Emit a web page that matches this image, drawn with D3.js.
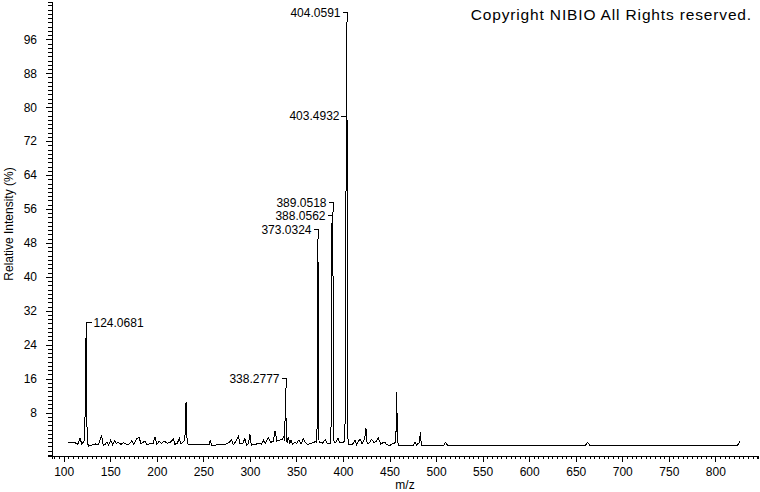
<!doctype html>
<html>
<head>
<meta charset="utf-8">
<title>Mass spectrum</title>
<style type="text/css">
  body { margin: 0; background: #fff; }
  svg {
    font-family: "Liberation Sans", Arial, sans-serif;
    font-size: 12px;
    display: block;
  }
  .axis path, .axis line {
    fill: none;
    stroke: #000;
    shape-rendering: crispEdges;
  }
  .axis text { fill: #000; font-size: 12px; }
  .spec { fill: none; stroke: #000; stroke-width: 1; shape-rendering: crispEdges; }
  .lead { fill: none; stroke: #000; shape-rendering: crispEdges; }
</style>
</head>
<body>
<div id="chart"></div>
<script src="https://d3js.org/d3.v7.min.js"></script>
<script>
// profile (m/z, relative intensity %)
const mz = [105.0, 112.0, 115.0, 117.5, 119.5, 121.8, 122.6, 123.3, 123.7, 124.07, 124.5, 124.9, 125.4, 127.0, 130.0, 134.0, 137.0,
  140.8, 142.5, 144.5, 146.5, 148.0, 150.5, 152.5, 154.5, 156.5, 159.0, 161.5, 164.0, 167.0, 170.0, 173.0, 175.5, 178.4, 181.0, 183.0,
  187.3, 189.5, 191.5, 194.0, 196.0, 198.0, 200.0, 202.5, 205.0, 208.0, 211.0, 214.2, 217.7, 219.5, 222.0, 224.2, 226.0, 229.2,
  230.6, 231.4, 231.9, 232.6, 234.0, 256.0, 257.3, 259.0, 268.0, 275.0, 278.0, 280.4, 282.0, 285.0, 287.6, 289.5, 292.5, 294.7,
  296.5, 298.3, 300.0, 301.5, 306.0, 310.0, 312.5, 314.4, 316.5, 319.8, 322.5, 325.0, 327.0, 329.0, 332.0, 334.5, 336.5, 337.4,
  337.9, 338.28, 338.7, 339.3, 340.2, 341.3, 342.8, 344.2, 345.8, 348.0, 350.5, 352.5, 355.0, 357.4, 359.5, 362.0, 365.0, 368.0,
  370.5, 371.8, 372.5, 372.8, 373.03, 373.4, 373.8, 374.3, 378.0, 381.0, 383.0, 386.5, 387.4, 387.8, 388.06, 388.6, 389.05, 389.4,
  389.8, 390.4, 392.0, 394.5, 396.5, 400.0, 402.0, 402.8, 403.2, 403.49, 403.8, 404.06, 404.4, 404.8, 405.3, 406.0, 410.0, 412.9,
  414.5, 418.3, 420.5, 423.4, 424.7, 426.0, 428.5, 430.8, 433.5, 435.5, 437.9, 440.5, 443.0, 445.0, 447.0, 450.5, 453.0, 455.5,
  456.8, 457.3, 457.7, 458.1, 458.6, 459.4, 475.5, 477.3, 479.0, 482.3, 483.0, 483.6, 484.6, 508.5, 510.3, 512.0, 660.5, 662.8,
  665.0, 824.0, 826.4];
const intensity = [0.9, 0.9, 0.5, 1.9, 0.6, 1.2, 2.0, 14, 22, 27, 18, 6, 0.8, 0.1, 0.3, 0.6, 0.4,
  2.5, 0.3, 0.5, 1.1, 0.3, 1.5, 0.4, 1.3, 0.8, 0.9, 0.5, 0.9, 0.6, 0.5, 1.3, 0.5, 1.9, 2.1, 0.7,
  1.3, 0.3, 0.6, 0.8, 0.6, 2.3, 0.5, 1.2, 0.7, 1.3, 0.8, 0.9, 1.8, 0.5, 0.8, 1.9, 0.6, 1.3,
  3.0, 10.4, 6.0, 1.0, 0.4, 0.4, 1.4, 0.3, 0.4, 0.6, 1.0, 1.6, 0.4, 1.2, 2.4, 0.6, 0.8, 1.9,
  0.3, 0.6, 2.9, 0.3, 0.5, 0.8, 0.5, 1.5, 0.7, 2.0, 1.0, 1.2, 3.7, 1.3, 1.5, 1.6, 2.4, 1.3,
  8.6, 13.8, 8.0, 1.2, 1.0, 2.3, 0.6, 1.6, 0.5, 0.9, 0.8, 1.5, 0.6, 1.9, 1.0, 0.4, 0.7, 0.9,
  1.2, 1.0, 8, 30, 48.9, 35, 8, 0.9, 0.8, 1.6, 0.7, 0.8, 6, 28, 52.2, 54, 55.3, 33,
  8, 0.8, 0.9, 2.0, 1.0, 0.8, 1.5, 18, 55, 78, 92, 100, 70, 20, 2, 0.4, 0.4, 1.5,
  0.4, 1.8, 0.6, 2.0, 4.3, 0.6, 0.9, 1.7, 0.9, 1.2, 2.0, 0.6, 0.9, 1.0, 0.4, 0.3, 0.6, 0.7,
  1.5, 8, 12.9, 7, 1.5, 0.3, 0.35, 1.0, 0.35, 1.0, 3.5, 1.5, 0.35, 0.35, 1.0, 0.35, 0.35, 1.0,
  0.35, 0.35, 1.2];

// labelled peaks
const annMz = [404.0591, 403.4932, 389.0518, 388.0562, 373.0324, 338.2777, 124.0681];
const annInt = [100, 78, 55.3, 52.2, 48.9, 13.8, 27];
const annKind = ["top", "side", "top", "top", "top", "top", "topRight"];

const xMajor = d3.range(100, 801, 50);
const yMajor = d3.range(8, 97, 8);

var margin = {top: 2, right: 2, bottom: 36, left: 52};
var width = 760 - margin.left - margin.right,
    height = 492 - margin.top - margin.bottom;

var svg = d3.select("#chart").append("svg")
  .attr("width", 760)
  .attr("height", 492);

svg.append("rect").attr("width", 760).attr("height", 492).attr("fill", "#fff");

var g = svg.append("g")
  .attr("transform", "translate(" + margin.left + "," + margin.top + ")");

var x = d3.scaleLinear().domain([87.43, 845.8]).range([0, width]);
var y = d3.scaleLinear().domain([-2.24, 104.8]).range([height, 0]);

// minor ticks
g.append("g")
  .attr("class", "axis")
  .attr("transform", "translate(0," + height + ")")
  .call(d3.axisBottom(x).tickValues(d3.range(90, 846, 5)).tickSize(3).tickFormat(""));
g.append("g")
  .attr("class", "axis")
  .call(d3.axisLeft(y).tickValues(d3.range(-2, 105, 1)).tickSize(4).tickFormat(""));

// major ticks + labels
g.append("g")
  .attr("class", "axis")
  .attr("transform", "translate(0," + height + ")")
  .call(d3.axisBottom(x).tickValues(xMajor).tickSize(6).tickPadding(5).tickFormat(d3.format("d")))
  .call(a => a.select(".domain").remove());
g.append("g")
  .attr("class", "axis")
  .call(d3.axisLeft(y).tickValues(yMajor).tickSize(6).tickPadding(9).tickFormat(d3.format("d")))
  .call(a => a.select(".domain").remove());

// spectrum trace
var pts = mz.map((m, i) => [m, intensity[i]]);
g.append("path")
  .datum(pts)
  .attr("class", "spec")
  .attr("d", d3.line().x(d => x(d[0])).y(d => y(d[1])));

// peak annotations
annMz.forEach(function(m, i) {
  var px = Math.round(x(m)) + 0.5;
  var py = y(annInt[i]);
  var label = m.toFixed(4);
  if (annKind[i] === "side") {
    g.append("line").attr("class", "lead")
      .attr("x1", px - 6).attr("x2", px).attr("y1", Math.round(py) + 0.5).attr("y2", Math.round(py) + 0.5);
    g.append("text").attr("x", px - 7).attr("y", py).attr("dy", "0.35em")
      .attr("text-anchor", "end").text(label);
  } else {
    var by = Math.round(py - 10) + 0.5;
    var right = annKind[i] === "topRight";
    g.append("path").attr("class", "lead")
      .attr("d", "M" + (right ? px + 5 : px - 5) + "," + by + "H" + px + "V" + py);
    g.append("text").attr("x", right ? px + 7 : px - 7).attr("y", by).attr("dy", "0.35em")
      .attr("text-anchor", right ? "start" : "end").text(label);
  }
});

// axis titles
svg.append("text")
  .attr("transform", "translate(13," + 224 + ") rotate(-90)")
  .attr("text-anchor", "middle")
  .text("Relative Intensity (%)");

svg.append("text")
  .attr("x", margin.left + width / 2)
  .attr("y", 489)
  .attr("text-anchor", "middle")
  .text("m/z");

svg.append("text")
  .attr("x", 752)
  .attr("y", 20)
  .attr("text-anchor", "end")
  .style("font-size", "15.5px")
  .style("letter-spacing", "0.85px")
  .text("Copyright NIBIO All Rights reserved.");
</script>
</body>
</html>
